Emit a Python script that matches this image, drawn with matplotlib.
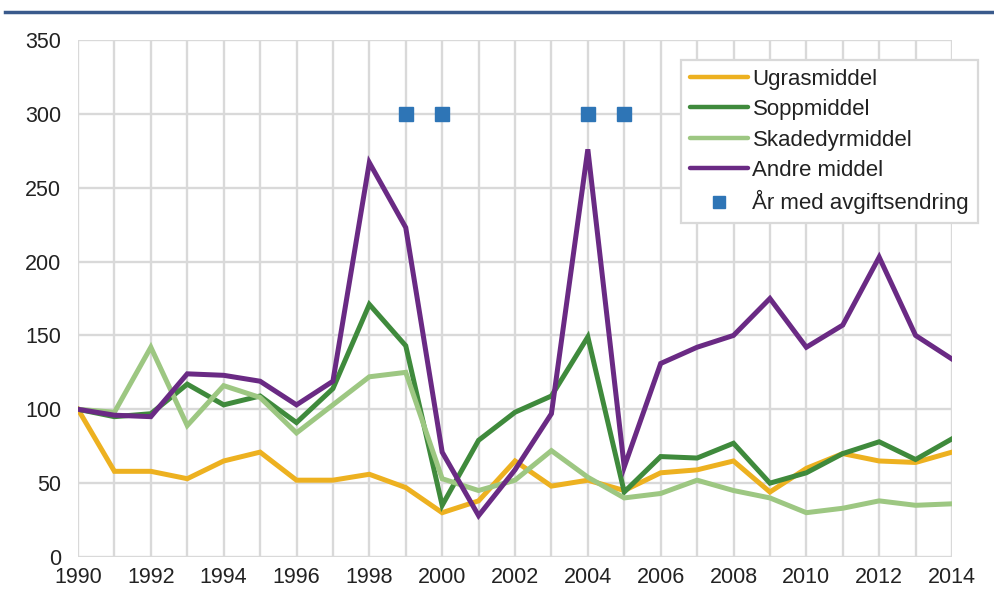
import matplotlib
matplotlib.use("Agg")
import matplotlib.pyplot as plt
from matplotlib.lines import Line2D

plt.rcParams["font.family"] = ["Liberation Sans", "DejaVu Sans"]

years = list(range(1990, 2015))
ugras = [100, 58, 58, 53, 65, 71, 52, 52, 56, 47, 30, 38, 65, 48, 52, 45,
         57, 59, 65, 44, 60, 70, 65, 64, 71]
sopp = [100, 95, 97, 117, 103, 109, 91, 114, 171, 143, 35, 79, 98, 109, 149, 44,
        68, 67, 77, 50, 57, 70, 78, 66, 80]
skade = [100, 98, 142, 89, 116, 108, 84, 103, 122, 125, 53, 45, 52, 72, 54, 40,
         43, 52, 45, 40, 30, 33, 38, 35, 36]
andre = [100, 96, 95, 124, 123, 119, 103, 119, 267, 223, 71, 28, 59, 97, 276, 61,
         131, 142, 150, 175, 142, 157, 203, 150, 134]
fee_years = [1999, 2000, 2004, 2005]
fee_level = [300, 300, 300, 300]

series = [
    ("Ugrasmiddel", ugras, "#EDB120"),
    ("Soppmiddel", sopp, "#3F8A3C"),
    ("Skadedyrmiddel", skade, "#9DC782"),
    ("Andre middel", andre, "#6A2A84"),
]

fig = plt.figure(figsize=(9.95, 6.06), dpi=100)
ax = fig.add_axes([78 / 995, 49 / 606, 874 / 995, 517 / 606])

for label, vals, color in series:
    ax.plot(years, vals, color=color, linewidth=3.6, label=label,
            solid_joinstyle="miter", zorder=3)
ax.plot(fee_years, fee_level, linestyle="none", marker="s", markersize=10,
        color="#2E75B6", label="År med avgiftsendring", zorder=4)

ax.set_xlim(1990, 2014)
ax.set_ylim(0, 350)
ax.set_xticks(range(1990, 2015, 2))
ax.set_xticks(range(1991, 2014, 2), minor=True)
ax.set_yticks(range(0, 351, 50))
ax.grid(True, which="both", color="#D9D9D9", linewidth=1.7, zorder=0)
ax.set_axisbelow(True)
for s in ax.spines.values():
    s.set_visible(False)
ax.tick_params(which="both", length=0, labelsize=15.5, colors="#222222")
ax.tick_params(axis="y", pad=12)
ax.tick_params(axis="x", pad=7)

handles = [Line2D([0], [0], color=c, linewidth=3.2, solid_capstyle="round")
           for _, _, c in series]
handles.append(Line2D([0], [0], linestyle="none", marker="s", markersize=8,
                      color="#2E75B6"))
labels = [s[0] for s in series] + ["År med avgiftsendring"]
leg = fig.legend(handles, labels, loc="upper right",
                 bbox_to_anchor=(978 / 995, 1 - 60 / 606),
                 bbox_transform=fig.transFigure, borderaxespad=0,
                 fontsize=16, handlelength=2.6, handletextpad=0.2,
                 labelspacing=0.42, borderpad=0.4, fancybox=False,
                 framealpha=1, edgecolor="#D9D9D9")
leg.get_frame().set_linewidth(1.6)
for t in leg.get_texts():
    t.set_color("#222222")

# header rule at the top of the figure
fig.add_artist(Line2D([5 / 995, 1], [1 - 12 / 606, 1 - 12 / 606],
                      transform=fig.transFigure, color="#3A5A8C", linewidth=2.5))

fig.savefig("out.png", dpi=100, facecolor="white")
